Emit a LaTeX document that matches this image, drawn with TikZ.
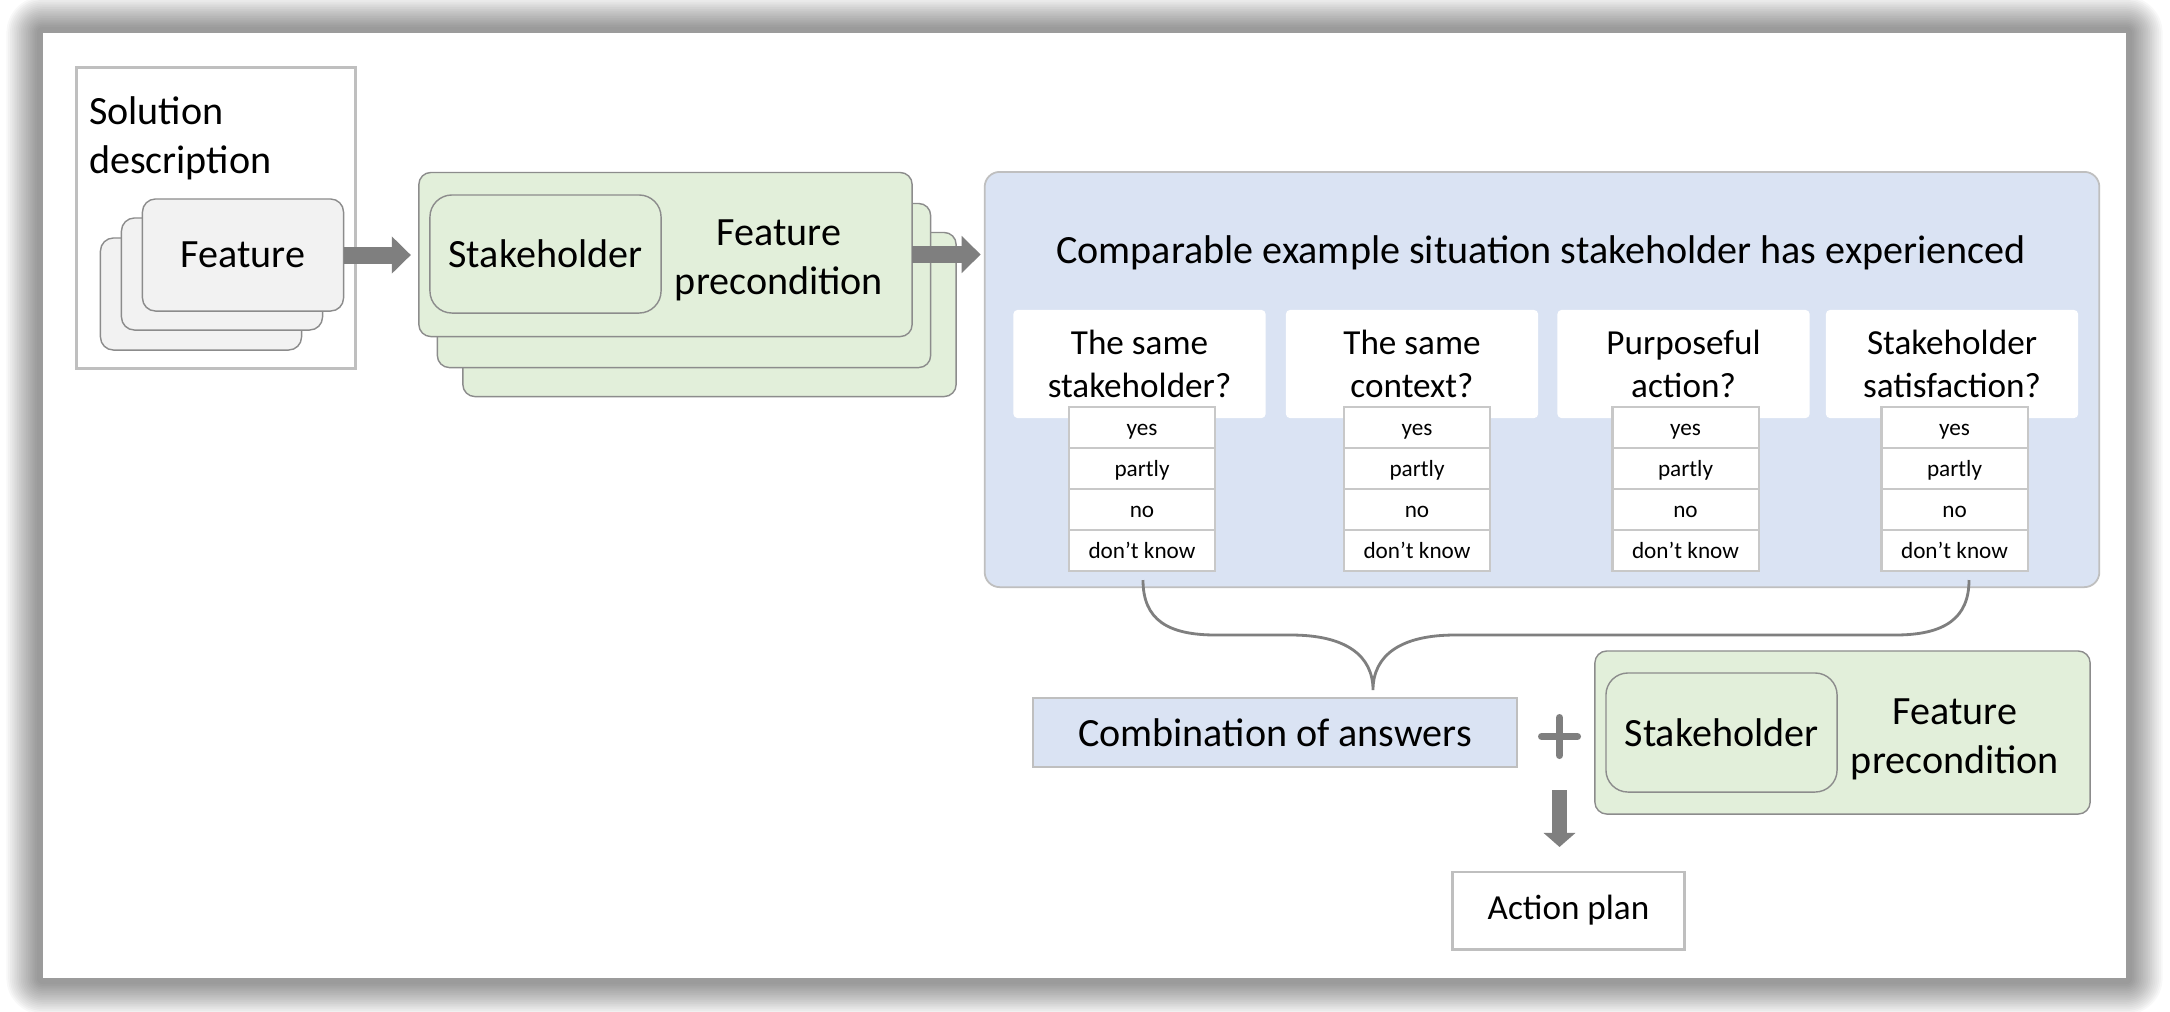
\documentclass[tikz,border=0pt]{standalone}
\usepackage{fontspec}
\setmainfont{Carlito}
\usetikzlibrary{arrows.meta}
\definecolor{lgreen}{HTML}{E2EFDA}
\definecolor{lblue}{HTML}{DAE3F3}
\definecolor{lgray}{HTML}{F2F2F2}
\definecolor{agray}{HTML}{7F7F7F}
\definecolor{edgegray}{HTML}{8C8C8C}
\definecolor{lightedge}{HTML}{BFBFBF}
\definecolor{celledge}{HTML}{C8C8C8}
\newcommand\fbig{\fontsize{11.4}{13.9}\selectfont}
\newcommand\fq{\fontsize{10}{12.4}\selectfont}
\newcommand\fsm{\fontsize{6.6}{8}\selectfont}
\begin{document}
\begin{tikzpicture}[x=0.01cm, y=-0.01cm,
  bx/.style={inner sep=0pt, outer sep=0pt, align=center},
  featcard/.style={bx, draw=edgegray, fill=lgray, line width=0.4pt, rounded corners=0.13cm, minimum width=2.01cm, minimum height=1.12cm},
  gcard/.style={bx, draw=edgegray, fill=lgreen, line width=0.4pt, rounded corners=0.12cm, minimum width=4.93cm, minimum height=1.64cm},
  shbox/.style={bx, draw=edgegray, fill=lgreen, line width=0.4pt, rounded corners=0.22cm, minimum width=2.31cm, minimum height=1.18cm, font=\fbig},
  qbox/.style={bx, fill=white, rounded corners=0.04cm, minimum width=2.52cm, minimum height=1.08cm, font=\fq},
  anscell/.style={bx, draw=celledge, fill=white, line width=0.6pt, minimum width=1.46cm, minimum height=0.41cm, font=\fsm, text height=0.207cm, text depth=0.046cm},
  blockarrow/.style={draw=agray, line width=0.17cm, -{Triangle[length=0.19cm, width=0.36cm]}},
  downarrow/.style={draw=agray, line width=0.15cm, -{Triangle[length=0.14cm, width=0.31cm]}},
  bracepath/.style={draw=agray, line width=0.8pt},
  plusbar/.style={draw=agray, line width=0.07cm, line cap=round}
]
\useasboundingbox (0,0) rectangle (2170,1011);
% shadow of the panel
\foreach \k in {0,...,17}{
  \pgfmathsetmacro\e{6+1.8*\k}
  \pgfmathsetmacro\rr{\e*0.01}
  \fill[black, opacity=0.028, rounded corners=\rr cm] (43-\e,33-\e) rectangle (2126+\e,978+\e);
}
\fill[white] (43,33) rectangle (2126,978);

% solution description
\node[bx, draw=lightedge, line width=0.85pt, fill=white, minimum width=2.78cm, minimum height=3.00cm] (sol) at (216,218) {};
\node[bx, font=\fbig, align=left, anchor=north west] (soltxt) at (89,97) {Solution\\description};
\node[featcard] (f3) at (201,294) {};
\node[featcard] (f2) at (222,274) {};
\node[featcard, font=\fbig] (f1) at (243,255) {Feature};

% green stack
\node[gcard] (g3) at (709.5,314.5) {};
\node[gcard] (g2) at (684,285.5) {};
\node[gcard] (g1) at (665.5,254.5) {};
\node[shbox] (s1) at (545.5,254) {Stakeholder};
\node[bx, font=\fbig] (fp1) at (779,260.5) {Feature\\precondition};

% blue panel
\node[bx, draw=lightedge, fill=lblue, line width=0.5pt, rounded corners=0.15cm, minimum width=11.14cm, minimum height=4.15cm] (blue) at (1542,379.5) {};
\node[bx, font=\fbig, anchor=base] (title) at (1541,263) {Comparable example situation stakeholder has experienced};

\node[qbox] (q1) at (1139.5,364) {The same\\stakeholder?};
\node[qbox] (q2) at (1412,364) {The same\\context?};
\node[qbox] (q3) at (1683.5,364) {Purposeful\\action?};
\node[qbox] (q4) at (1952,364) {Stakeholder\\satisfaction?};

\foreach \c/\x in {1/1142,2/1417,3/1685.5,4/1954.5}{
  \foreach \r/\y/\t in {1/427.5/yes,2/468.5/partly,3/509.5/no,4/550.5/don’t know}{
    \node[anscell] (c\c\r) at (\x,\y) {\t};
  }
}

% arrows
\draw[blockarrow, shorten >=0.08cm] (f1.east) -- (f1.east -| g1.west);
\draw[blockarrow, shorten >=0.04cm] (g1.east) -- (g1.east -| blue.west);

% brace
\coordinate (bl) at (1143,580);
\coordinate (bt) at (1373,690);
\coordinate (br) at (1969,580);
\draw[bracepath] (bl) .. controls (1143,620) and (1168,635) .. (1216,635) -- (1291,635)
  .. controls (1345,635) and (1373,655) .. (bt)
  .. controls (1373,655) and (1401,635) .. (1455,635) -- (1895,635)
  .. controls (1945,635) and (1969,618) .. (br);

% combination
\node[bx, draw=lightedge, fill=lblue, line width=0.5pt, minimum width=4.84cm, minimum height=0.69cm, font=\fbig] (comb) at (1275,732.5) {Combination of answers};

% plus
\coordinate (plus) at (1559.5,736.5);
\draw[plusbar] ([xshift=-0.18cm]plus) -- ([xshift=0.18cm]plus);
\draw[plusbar] ([yshift=0.19cm]plus) -- ([yshift=-0.19cm]plus);

% second green
\node[gcard, minimum width=4.95cm, minimum height=1.63cm] (g4) at (1842.5,732.5) {};
\node[shbox, minimum height=1.19cm] (s2) at (1721.5,732.5) {Stakeholder};
\node[bx, font=\fbig] (fp2) at (1955,739) {Feature\\precondition};

% action plan
\node[bx, draw=lightedge, fill=white, line width=0.85pt, minimum width=2.31cm, minimum height=0.77cm, font=\fq] (ap) at (1568.5,910.5) {Action plan};
\draw[downarrow, shorten >=0.25cm] ([yshift=-0.535cm]plus) -- (plus |- ap.north);
\end{tikzpicture}
\end{document}
